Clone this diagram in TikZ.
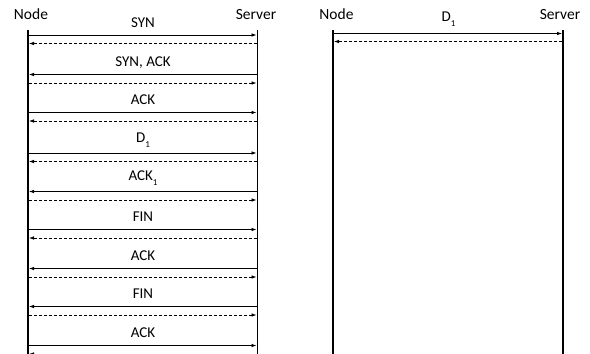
\documentclass[tikz,border=0pt]{standalone}
\usepackage{fontspec}
\setmainfont{Carlito}
\usetikzlibrary{arrows.meta}
\newcommand{\lowone}{\raisebox{-5pt}{\fontsize{9}{10}\selectfont 1}}
\begin{document}
\begin{tikzpicture}[x=1pt,y=-1pt,
  life/.style={line width=1.4pt},
  msg/.style={line width=0.8pt,-{Latex[length=5pt,width=3.6pt]}},
  reply/.style={msg,dash pattern=on 3pt off 2pt},
  lbl/.style={font=\fontsize{15}{17}\selectfont,inner sep=0pt,anchor=base},
  head/.style={font=\fontsize{15.5}{17}\selectfont,inner sep=0pt,anchor=base}]
\useasboundingbox (0,0) rectangle (590,354);
% left diagram lifelines
\coordinate (NLtop) at (28,30);
\coordinate (NLbot) at (28,354);
\coordinate (SLtop) at (257.5,30);
\coordinate (SLbot) at (257.5,354);
\draw[life] (NLtop) -- (NLbot);
\draw[life] (SLtop) -- (SLbot);
\node[head] (nodeL) at (31,19.5) {Node};
\node[head] (servL) at (256,19.5) {Server};
% right diagram lifelines
\coordinate (NRtop) at (333,30);
\coordinate (NRbot) at (333,354);
\coordinate (SRtop) at (563,30);
\coordinate (SRbot) at (563,354);
\draw[life] (NRtop) -- (NRbot);
\draw[life] (SRtop) -- (SRbot);
\node[head] (nodeR) at (336.5,19.5) {Node};
\node[head] (servR) at (560,19.5) {Server};
% message rows: index / y of solid arrow / direction (1 = to server) / label raise / label
\foreach \i/\y/\d/\r/\t in {1/35/1/8/SYN, 2/74.5/0/8/{SYN, ACK}, 3/112.5/1/8/ACK, 4/153/1/10.5/{D\lowone}, 5/191.5/0/11/{ACK\lowone}, 6/229.5/1/8/FIN, 7/268.5/0/8/ACK, 8/306.5/0/8/FIN, 9/345.5/1/8/ACK}{
  \coordinate (a\i) at (29,\y);
  \coordinate (b\i) at (256.5,\y);
  \coordinate (c\i) at (29,\y+8.5);
  \coordinate (d\i) at (256.5,\y+8.5);
  \node[lbl] (t\i) at (143,\y-\r) {\t};
  \ifnum\d=1
    \draw[msg] (a\i) -- (b\i);
    \draw[reply] (d\i) -- (c\i);
  \else
    \draw[msg] (b\i) -- (a\i);
    \draw[reply] (c\i) -- (d\i);
  \fi
}
% right diagram message
\coordinate (ra) at (334,33.5);
\coordinate (rb) at (562,33.5);
\coordinate (rc) at (334,41.5);
\coordinate (rd) at (562,41.5);
\node[lbl] (rt) at (448.5,21.5) {D\lowone};
\draw[msg] (ra) -- (rb);
\draw[reply] (rd) -- (rc);
\end{tikzpicture}
\end{document}
